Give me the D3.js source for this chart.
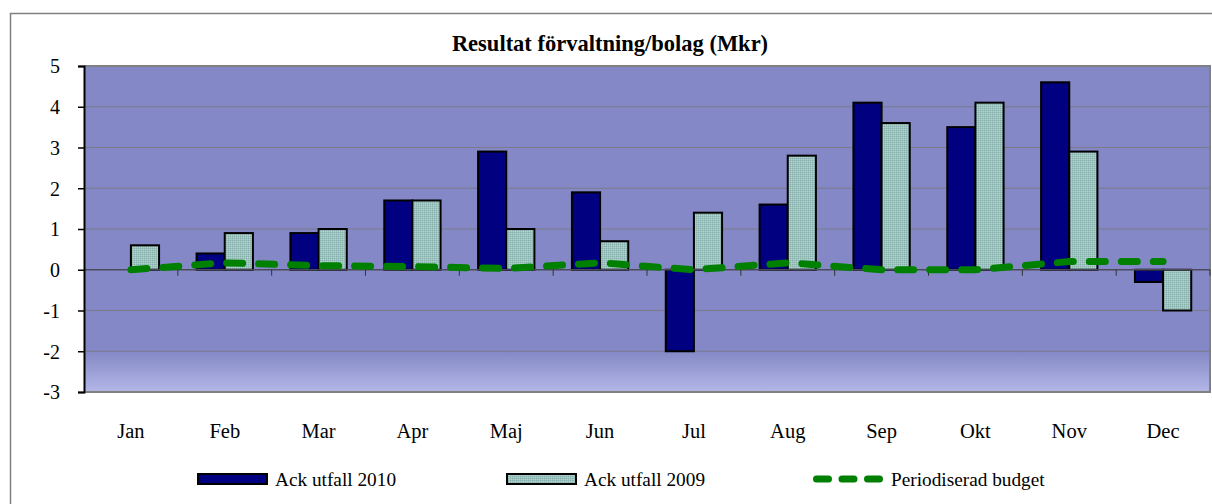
<!DOCTYPE html>
<html><head><meta charset="utf-8">
<script src="https://cdn.jsdelivr.net/npm/d3@7"></script>
<style>body{margin:0;background:#fff}svg{display:block}text{font-family:"Liberation Serif","Times New Roman",serif}</style>
</head><body><svg id="c" width="1212" height="504"></svg>
<script>
const months = ["Jan","Feb","Mar","Apr","Maj","Jun","Jul","Aug","Sep","Okt","Nov","Dec"];
const utfall2010 = [0, 0.4, 0.9, 1.7, 2.9, 1.9, -2.0, 1.6, 4.1, 3.5, 4.6, -0.3];
const utfall2009 = [0.6, 0.9, 1.0, 1.7, 1.0, 0.7, 1.4, 2.8, 3.6, 4.1, 2.9, -1.0];
const budget = [0, 0.17, 0.1, 0.08, 0.03, 0.17, 0, 0.17, 0, 0, 0.2, 0.2];
const yTicks = [5, 4, 3, 2, 1, 0, -1, -2, -3];
const seriesNames = ["Ack utfall 2010", "Ack utfall 2009", "Periodiserad budget"];

const svg = d3.select("#c");
const L = 84, R = 1210, T = 66, B = 392;
const x = d3.scaleBand().domain(months).range([L, R]).padding(0);
const x1 = d3.scaleBand().domain([0, 1]).range([x.bandwidth() * 0.2, x.bandwidth() * 0.8]).padding(0);
const y = d3.scaleLinear().domain([-3, 5]).range([B, T]);

const defs = svg.append("defs");
const grad = defs.append("linearGradient").attr("id", "bg").attr("x1", 0).attr("y1", 0).attr("x2", 0).attr("y2", 1);
grad.append("stop").attr("offset", 0).attr("stop-color", "#8488c6");
grad.append("stop").attr("offset", (y(-2) - T) / (B - T)).attr("stop-color", "#8488c6");
grad.append("stop").attr("offset", 1).attr("stop-color", "#b3b7e6");
const pat = defs.append("pattern").attr("id", "dots").attr("width", 2).attr("height", 2).attr("patternUnits", "userSpaceOnUse");
pat.append("rect").attr("width", 2).attr("height", 2).attr("fill", "#9ec3bf");
pat.append("rect").attr("width", 1).attr("height", 1).attr("fill", "#86b0ac");
pat.append("rect").attr("x", 1).attr("y", 1).attr("width", 1).attr("height", 1).attr("fill", "#b4d0cd");

// outer frame
svg.append("rect").attr("x", 10.5).attr("y", 13.5).attr("width", 1210).attr("height", 500)
  .attr("fill", "#fff").attr("stroke", "#808080").attr("stroke-width", 1.5);

// title
svg.append("text").attr("x", 610).attr("y", 51).attr("text-anchor", "middle")
  .attr("font-weight", "bold").attr("font-size", 22.5).text("Resultat förvaltning/bolag (Mkr)");

// plot bg
svg.append("rect").attr("x", L).attr("y", T).attr("width", R - L).attr("height", B - T).attr("fill", "url(#bg)");

// gridlines
svg.append("g").selectAll("line").data(yTicks.filter(d => d !== -3 && d !== 5 && d !== 0)).join("line")
  .attr("x1", L).attr("x2", R).attr("y1", d => y(d)).attr("y2", d => y(d))
  .attr("stroke", "#7a7a8a").attr("stroke-width", 1.2);

// plot border top/right/bottom
svg.append("path").attr("d", `M${L},${T}H${R}V${B}H${L}`).attr("fill", "none")
  .attr("stroke", "#808080").attr("stroke-width", 2);

// bars
const g = svg.append("g");
[utfall2010, utfall2009].forEach((vals, si) => {
  g.append("g").selectAll("rect").data(vals.map((v, i) => ({ m: months[i], v }))).join("rect")
    .filter(d => d.v !== 0)
    .attr("x", d => x(d.m) + x1(si))
    .attr("width", x1.bandwidth())
    .attr("y", d => y(Math.max(0, d.v)))
    .attr("height", d => Math.abs(y(d.v) - y(0)))
    .attr("fill", si === 0 ? "#000080" : "url(#dots)")
    .attr("stroke", "#000").attr("stroke-width", 2);
});

// x axis at zero
svg.append("line").attr("x1", L).attr("x2", R).attr("y1", y(0)).attr("y2", y(0)).attr("stroke", "#4a4a5a").attr("stroke-width", 1.5);
svg.append("g").selectAll("line").data(months).join("line")
  .attr("x1", d => x(d) + x.step()).attr("x2", d => x(d) + x.step())
  .attr("y1", y(0)).attr("y2", y(0) + 6).attr("stroke", "#333").attr("stroke-width", 1);

// budget line
const line = d3.line().x((d, i) => x(months[i]) + x.bandwidth() / 2).y(d => y(d));
svg.append("path").datum(budget).attr("d", line).attr("fill", "none")
  .attr("stroke", "#008000").attr("stroke-width", 7).attr("stroke-linecap", "round")
  .attr("stroke-dasharray", "16,16");

// y axis
const yAxis = d3.axisLeft(y).tickValues(yTicks).tickSize(6).tickFormat(d => String(d));
const ya = svg.append("g").attr("transform", `translate(${L},0)`).call(yAxis);
ya.attr("font-family", null).attr("font-size", null);
ya.select(".domain").attr("stroke", "#000").attr("stroke-width", 2);
ya.selectAll(".tick line").attr("stroke", "#000").attr("stroke-width", 1.5);
ya.selectAll(".tick text").attr("font-size", 20).attr("fill", "#000").attr("x", -24).attr("dy", "0.34em");

// month labels
svg.append("g").selectAll("text").data(months).join("text")
  .attr("x", d => x(d) + x.bandwidth() / 2).attr("y", 438).attr("text-anchor", "middle")
  .attr("font-size", 20.5).text(d => d);

// legend
const lg = svg.append("g");
const legX = [198, 507, 813];
lg.append("rect").attr("x", legX[0]).attr("y", 474).attr("width", 69).attr("height", 10).attr("fill", "#000080").attr("stroke", "#000").attr("stroke-width", 2);
lg.append("rect").attr("x", legX[1]).attr("y", 474).attr("width", 69).attr("height", 10).attr("fill", "url(#dots)").attr("stroke", "#000").attr("stroke-width", 2);
lg.append("line").attr("x1", legX[2] + 3.5).attr("x2", legX[2] + 66.5).attr("y1", 479).attr("y2", 479)
  .attr("stroke", "#008000").attr("stroke-width", 7).attr("stroke-linecap", "round").attr("stroke-dasharray", "12,13.5");
lg.selectAll("text.l").data(seriesNames).join("text")
  .attr("x", (d, i) => legX[i] + (i === 2 ? 78 : 77)).attr("y", 486).attr("font-size", 19.3).text(d => d);
</script></body></html>
